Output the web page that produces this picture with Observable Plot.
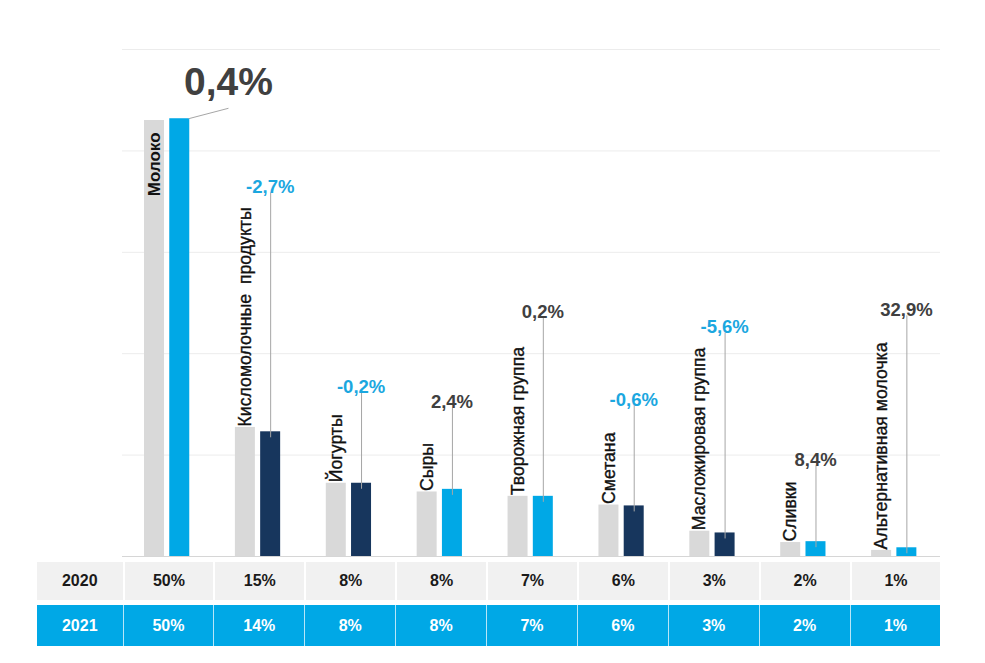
<!DOCTYPE html>
<html>
<head>
<meta charset="utf-8">
<script src="https://cdn.jsdelivr.net/npm/d3@7"></script>
<script src="https://cdn.jsdelivr.net/npm/@observablehq/plot@0.6"></script>
<style>
  html, body { margin: 0; padding: 0; background: #fff; }
  #wrap { position: relative; width: 985px; height: 663px; font-family: "Liberation Sans", Arial, sans-serif; }
  #chart { position: absolute; left: 0; top: 0; }
  .row { position: absolute; left: 37px; display: flex; }
  .cell { box-sizing: border-box; display: flex; align-items: center; justify-content: center; font-weight: bold; font-size: 16px; }
  .r1 { top: 562px; height: 38px; background: #f1f1f1; color: #1a1a1a; }
  .r2 { top: 605px; height: 41px; background: #00a8e6; color: #fff; }
  .r1 .cell + .cell { border-left: 2px solid #fff; }
  .r2 .cell + .cell { border-left: 1px solid #b8e6f8; }
</style>
</head>
<body>
<div id="wrap">
  <div id="chart"></div>
  <div class="row r1" id="row2020"></div>
  <div class="row r2" id="row2021"></div>
</div>
<script>
const categories = ["Молоко", "Кисломолочные  продукты", "Йогурты", "Сыры", "Творожная группа", "Сметана", "Масложировая группа", "Сливки", "Альтернативная молочка"];
const share2020 = [50.0, 14.8, 8.4, 7.4, 6.9, 5.9, 2.9, 1.6, 0.7];
const share2021 = [50.2, 14.3, 8.4, 7.7, 6.9, 5.8, 2.7, 1.7, 1.0];
const growth = [0.4, -2.7, -0.2, 2.4, 0.2, -0.6, -5.6, 8.4, 32.9];
const growthLabelLevel = [52.9, 41.7, 18.7, 17.0, 27.4, 17.3, 25.6, 10.4, 27.6];
const gridValues = [11.63, 23.26, 34.88, 46.51, 58.14];
const yearLabels = ["2020", "2021"];
const table2020 = ["50%", "15%", "8%", "8%", "7%", "6%", "3%", "2%", "1%"];
const table2021 = ["50%", "14%", "8%", "8%", "7%", "6%", "3%", "2%", "1%"];

const data = categories.map((c, i) => ({
  i, c, v2020: share2020[i], v2021: share2021[i], g: growth[i], level: growthLabelLevel[i]
}));
const fmt = v => v.toFixed(1).replace(".", ",") + "%";
const barColor = d => d.g >= 0 ? "#00a8e6" : "#17365d";
const labelColor = d => d.g < 0 ? "#1ba7df" : "#404040";
const first = data.filter(d => d.i === 0);
const rest = data.filter(d => d.i > 0);

const plot = Plot.plot({
  width: 985,
  height: 560,
  marginTop: 49,
  marginBottom: 4,
  marginLeft: 122,
  marginRight: 45,
  x: {domain: [0, categories.length], axis: null},
  y: {domain: [0, gridValues[gridValues.length - 1]], axis: null},
  style: {fontFamily: "Liberation Sans, Arial, sans-serif", background: "#fff"},
  marks: [
    Plot.ruleY(gridValues, {stroke: "#ececec", strokeWidth: 1}),
    Plot.ruleY([0], {stroke: "#d6d6d6", strokeWidth: 1}),
    Plot.rect(data, {x1: d => d.i + 0.242, x2: d => d.i + 0.462, y1: d => 0, y2: "v2020", fill: "#d9d9d9"}),
    Plot.rect(data, {x1: d => d.i + 0.52, x2: d => d.i + 0.74, y1: d => 0, y2: "v2021", fill: barColor}),
    // leader lines
    Plot.ruleX(rest, {x: d => d.i + 0.63, y1: "v2021", y2: "level", insetTop: 6, stroke: "#a6a6a6", strokeWidth: 1}),
    Plot.link(first, {x1: d => d.i + 0.726, y1: "v2021", x2: d => d.i + 1.166, y2: d => d.level - 1.5, stroke: "#a6a6a6", strokeWidth: 1}),
    // growth labels
    Plot.text(rest, {x: d => d.i + 0.625, y: "level", text: d => fmt(d.g), fill: labelColor, fontSize: 18.5, fontWeight: "bold", lineAnchor: "bottom"}),
    Plot.text(first, {x: d => d.i + 1.166, y: "level", text: d => fmt(d.g), fill: "#404040", fontSize: 39, fontWeight: "bold", lineAnchor: "bottom"}),
    // category names
    Plot.text(rest, {x: d => d.i + 0.352, y: "v2020", text: "c", rotate: -90, textAnchor: "start", lineAnchor: "middle", dy: -1, fontSize: 17.7, fill: "#111", stroke: "#111", strokeWidth: 0.35}),
    Plot.text(first, {x: d => d.i + 0.352, y: "v2020", text: "c", rotate: -90, textAnchor: "end", lineAnchor: "middle", dy: 12, fontSize: 17, fontWeight: "bold", fill: "#111"})
  ]
});
document.getElementById("chart").appendChild(plot);

function fillRow(el, year, values) {
  const head = document.createElement("div");
  head.className = "cell";
  head.style.width = "85.5px";
  head.textContent = year;
  el.appendChild(head);
  values.forEach(v => {
    const c = document.createElement("div");
    c.className = "cell";
    c.style.width = (818 / values.length) + "px";
    c.textContent = v;
    el.appendChild(c);
  });
}
fillRow(document.getElementById("row2020"), yearLabels[0], table2020);
fillRow(document.getElementById("row2021"), yearLabels[1], table2021);
</script>
</body>
</html>
